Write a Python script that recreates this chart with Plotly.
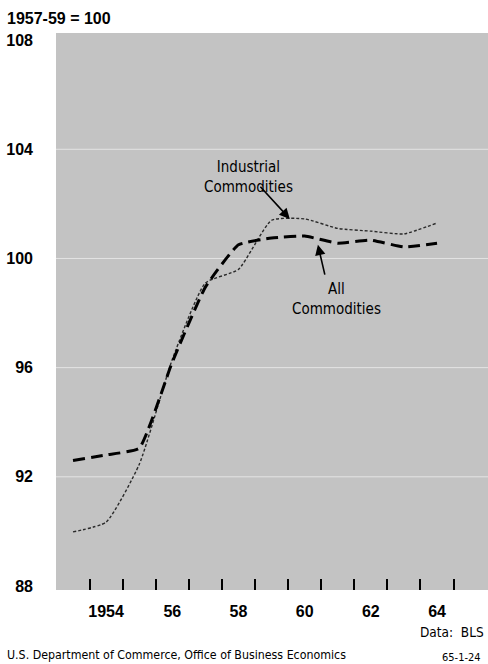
import plotly.graph_objects as go

# Wholesale price indexes, 1957-59 = 100
years = [1953, 1954, 1955, 1956, 1957, 1958, 1959, 1960, 1961, 1962, 1963, 1964]
all_commodities = [92.6, 92.8, 93.05, 96.2, 98.95, 100.5, 100.75, 100.82, 100.56, 100.67, 100.42, 100.56]
industrial_commodities = [89.98, 90.34, 92.45, 96.3, 99.1, 99.6, 101.4, 101.45, 101.1, 101.0, 100.9, 101.3]

x_label_vals = [1954, 1956, 1958, 1960, 1962, 1964]
x_label_text = ["1954", "56", "58", "60", "62", "64"]
year_boundaries = [y + 0.5 for y in range(1953, 1965)]
y_label_vals = [88, 92, 96, 100, 104, 108]
grid_vals = [92, 96, 100, 104]

NARROW = "DejaVu Sans Condensed, Liberation Sans Narrow, sans-serif"
BOLD = "Liberation Sans, Arial, sans-serif"

fig = go.Figure()

fig.add_trace(go.Scatter(
    x=years, y=industrial_commodities, mode="lines",
    line=dict(color="#2a2a2a", width=1.4, dash="3px,2px", shape="spline", smoothing=0.5),
    name="Industrial Commodities", showlegend=False, hoverinfo="skip",
))
fig.add_trace(go.Scatter(
    x=years, y=all_commodities, mode="lines",
    line=dict(color="black", width=3, dash="12px,6px", shape="spline", smoothing=0.4),
    name="All Commodities", showlegend=False, hoverinfo="skip",
))

# Faint white rules across the shaded field
for g in grid_vals:
    fig.add_hline(y=g, line=dict(color="rgba(255,255,255,0.55)", width=1), layer="below")

# Series labels with pointer arrows
fig.add_annotation(x=1958.29, y=103.0, xref="x", yref="y", showarrow=False,
                   text="Industrial<br>Commodities",
                   font=dict(family=NARROW, size=15, color="black"), align="center")
fig.add_annotation(x=1959.55, y=101.45, ax=1958.62, ay=102.68, xref="x", yref="y",
                   axref="x", ayref="y", text="", showarrow=True,
                   arrowhead=2, arrowsize=1.3, arrowwidth=1.6, arrowcolor="black")
fig.add_annotation(x=1960.95, y=98.5, xref="x", yref="y", showarrow=False,
                   text="All<br>Commodities",
                   font=dict(family=NARROW, size=15, color="black"), align="center")
fig.add_annotation(x=1960.4, y=100.5, ax=1960.62, ay=99.35, xref="x", yref="y",
                   axref="x", ayref="y", text="", showarrow=True,
                   arrowhead=2, arrowsize=1.3, arrowwidth=1.6, arrowcolor="black")

# Header, source and code notes
fig.add_annotation(x=0.0, y=1.0, xref="paper", yref="paper", xanchor="left", yanchor="top",
                   text="<b>1957-59 = 100</b>", showarrow=False, xshift=-51, yshift=25,
                   font=dict(family=BOLD, size=16, color="black"))
fig.add_annotation(x=1.0, y=0.0, xref="paper", yref="paper", xanchor="right", yanchor="middle",
                   text="Data:  BLS", showarrow=False, xshift=-2, yshift=-42,
                   font=dict(family=NARROW, size=13.5, color="black"))
fig.add_annotation(x=0.0, y=0.0, xref="paper", yref="paper", xanchor="left", yanchor="middle",
                   text="U.S. Department of Commerce, Office of Business Economics", showarrow=False,
                   xshift=-51, yshift=-65,
                   font=dict(family=NARROW, size=12.3, color="black"))
fig.add_annotation(x=1.0, y=0.0, xref="paper", yref="paper", xanchor="right", yanchor="middle",
                   text="65-1-24", showarrow=False, xshift=-5, yshift=-67,
                   font=dict(family=NARROW, size=11, color="black"))

fig.update_layout(
    width=488, height=664,
    margin=dict(l=56, r=0, t=33, b=74),
    paper_bgcolor="white",
    plot_bgcolor="#c3c3c3",
    xaxis=dict(
        range=[1952.486, 1965.54],
        tickvals=x_label_vals, ticktext=x_label_text,
        ticks="", showgrid=False, zeroline=False, showline=False,
        tickfont=dict(family=BOLD, size=16, color="black", weight="bold"),
        ticklabelstandoff=10,
        minor=dict(tickvals=year_boundaries, ticks="inside", ticklen=11,
                   tickwidth=2, tickcolor="black", showgrid=False),
    ),
    yaxis=dict(
        range=[87.853, 108.26],
        tickvals=y_label_vals, ticktext=[str(v) for v in y_label_vals],
        ticks="", zeroline=False, showline=False, showgrid=False,
        tickfont=dict(family=BOLD, size=16, color="black", weight="bold"),
        ticklabelstandoff=22,
    ),
)

fig.write_html("out.html")
